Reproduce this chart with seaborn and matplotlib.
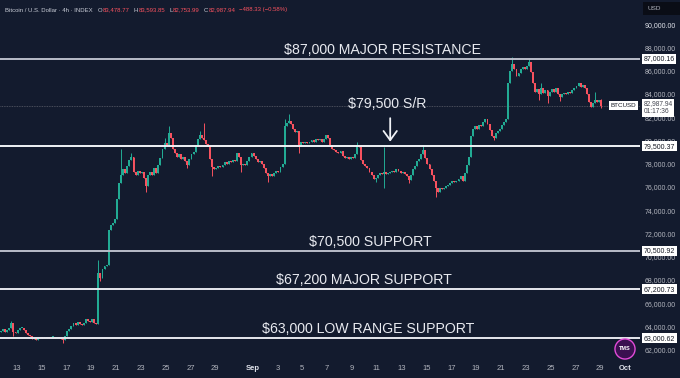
import matplotlib
matplotlib.use("Agg")
import matplotlib.pyplot as plt
import matplotlib.dates as mdates
from matplotlib.patches import Rectangle
import seaborn as sns
import pandas as pd
import numpy as np

# 4h closes, thousands of USD; first candle opens 11 Aug 16:00
first_open = 63.5
closes = [
    63.6, 63.8, 63.5, 63.7, 63.9, 64.3, 63.5, 63.4, 63.7, 63.9,
    63.9, 63.7, 63.4, 63.3, 63.2, 62.9, 63.0, 62.8, 63.0, 63.1,
    63.0, 63.0, 63.1, 63.0, 63.1, 63.1, 63.0, 63.1, 63.0, 62.9,
    62.8, 63.2, 63.6, 63.8, 64.0, 64.3, 64.1, 64.4, 64.2, 64.1,
    64.3, 64.6, 64.5, 64.4, 64.6, 64.3, 64.2, 68.6, 68.2, 68.9,
    69.2, 69.3, 72.3, 72.7, 72.9, 73.2, 75.0, 76.3, 77.0, 77.5,
    77.2, 77.8, 78.3, 78.6, 77.3, 77.0, 77.4, 77.2, 77.3, 76.8,
    76.1, 77.0, 77.3, 77.0, 77.6, 77.2, 77.9, 78.5, 79.3, 79.8,
    79.6, 80.6, 80.2, 79.3, 78.9, 78.6, 78.8, 78.4, 78.6, 78.2,
    77.9, 78.4, 78.8, 79.0, 79.6, 80.1, 80.5, 80.2, 80.0, 79.7,
    79.5, 78.4, 77.7, 77.5, 77.6, 77.8, 77.7, 77.9, 78.1, 78.0,
    78.2, 78.1, 78.3, 78.2, 78.9, 78.6, 77.9, 78.0, 77.9, 78.2,
    78.6, 78.9, 78.7, 78.4, 78.1, 78.2, 78.0, 77.6, 77.2, 76.9,
    77.1, 76.9, 77.2, 77.4, 77.3, 77.7, 78.0, 81.2, 81.5, 81.7,
    81.4, 81.0, 80.7, 80.8, 79.6, 79.9, 79.8, 79.9, 79.8, 79.9,
    80.0, 79.9, 80.1, 80.0, 80.1, 79.9, 80.1, 80.5, 80.2, 79.6,
    79.3, 79.2, 79.0, 78.9, 79.1, 78.7, 78.5, 78.6, 78.4, 78.6,
    78.5, 78.8, 79.6, 79.4, 78.3, 78.0, 77.8, 77.6, 77.3, 77.0,
    76.7, 76.8, 77.0, 77.2, 77.1, 77.3, 77.1, 77.2, 77.3, 77.4,
    77.3, 77.5, 77.4, 77.2, 77.3, 77.1, 76.9, 76.6, 77.0, 77.5,
    77.8, 78.2, 78.4, 78.8, 79.2, 78.5, 78.0, 77.5, 77.0, 76.5,
    75.9, 75.6, 75.9, 75.8, 75.9, 76.1, 76.2, 76.3, 76.5, 76.4,
    76.5, 76.7, 76.9, 76.5, 77.2, 77.9, 78.6, 80.4, 81.0, 81.2,
    81.0, 81.3, 81.2, 81.6, 81.8, 81.4, 80.9, 80.4, 80.2, 80.6,
    80.8, 81.0, 81.3, 81.6, 81.8, 84.9, 86.0, 86.6, 86.1, 85.5,
    85.8, 86.1, 86.3, 86.1, 86.4, 86.7, 85.9, 84.9, 84.2, 84.4,
    84.0, 84.5, 84.1, 84.3, 83.8, 84.2, 84.4, 84.2, 84.5, 84.0,
    83.7, 84.0, 84.1, 84.0, 84.2, 84.1, 84.3, 84.5, 84.7, 84.9,
    84.6, 84.8, 84.5, 84.0, 83.3, 82.9, 83.2, 83.5, 83.3, 83.47877,
    82.98794,
]
# notable wicks (candle index -> thousands USD)
wick_highs = {5: 64.5, 47: 69.7, 58: 79.3, 63: 78.9, 79: 80.2, 81: 81.2,
              96: 80.8, 98: 81.5, 137: 81.8, 139: 82.3, 172: 79.9, 185: 79.4,
              204: 79.6, 247: 87.2, 255: 87.1, 261: 84.9, 287: 84.2, 290: 83.59385}
wick_lows = {6: 63.2, 30: 62.6, 48: 67.9, 70: 75.6, 90: 77.6, 102: 76.9,
             116: 77.3, 129: 76.4, 144: 78.9, 181: 76.4, 185: 75.9, 197: 76.3,
             210: 75.1, 238: 80.0, 260: 83.5, 264: 83.2, 270: 83.4, 290: 82.75399}

levels = [87000.16, 79500.37, 70500.92, 67200.73, 63000.62]
level_colors = ['#b9bdc9', '#f0f2f6', '#b9bdc9', '#e6e8ee', '#e6e8ee']
last_price = 82987.94
price_ticks = [62000, 64000, 66000, 68000, 70000, 72000, 74000, 76000,
               78000, 80000, 82000, 84000, 86000, 88000, 90000]
date_ticks = ['2025-08-13', '2025-08-15', '2025-08-17', '2025-08-19', '2025-08-21',
              '2025-08-23', '2025-08-25', '2025-08-27', '2025-08-29', '2025-09-01',
              '2025-09-03', '2025-09-05', '2025-09-07', '2025-09-09', '2025-09-11',
              '2025-09-13', '2025-09-15', '2025-09-17', '2025-09-19', '2025-09-21',
              '2025-09-23', '2025-09-25', '2025-09-27', '2025-09-29', '2025-10-01']
date_labels = ['13', '15', '17', '19', '21', '23', '25', '27', '29', 'Sep',
               '3', '5', '7', '9', '11', '13', '15', '17', '19', '21',
               '23', '25', '27', '29', 'Oct']

bg = '#131b2e'
up, down = '#22ab94', '#f7525f'
sns.set_theme(style="dark", rc={"axes.facecolor": bg, "figure.facecolor": bg})
plt.rcParams['font.family'] = ['Liberation Sans', 'DejaVu Sans']

# build OHLC frame
t0 = pd.Timestamp('2025-08-11 16:00')
df = pd.DataFrame({'close': np.array(closes) * 1000})
df['open'] = np.r_[first_open, closes[:-1]] * 1000
df['time'] = [t0 + pd.Timedelta(hours=4 * i + 2) for i in range(len(df))]
df['high'] = df[['open', 'close']].max(axis=1)
df['low'] = df[['open', 'close']].min(axis=1)
for i, v in wick_highs.items():
    df.loc[i, 'high'] = v * 1000
for i, v in wick_lows.items():
    df.loc[i, 'low'] = v * 1000
df['color'] = np.where(df['close'] >= df['open'], up, down)

fig = plt.figure(figsize=(6.8, 3.78), dpi=100)
ax = fig.add_axes([0, 21 / 378, 640 / 680, 357 / 378])

x = mdates.date2num(df['time'])
ax.vlines(x, df['low'], df['high'], colors=df['color'], lw=0.7, zorder=3)
body = np.maximum((df['close'] - df['open']).abs(), 50)
ax.bar(x, body, bottom=df[['open', 'close']].min(axis=1), width=0.155,
       color=df['color'], linewidth=0, zorder=4)

# levels
for lvl, c in zip(levels, level_colors):
    ax.axhline(lvl, color=c, lw=1.4, zorder=5)
    ax.annotate(f"{lvl:,.2f}", xy=(1.0, lvl), xycoords=('axes fraction', 'data'),
                xytext=(2.5, 0), textcoords='offset points', ha='left', va='center',
                fontsize=5, color='#131722', annotation_clip=False, zorder=10,
                bbox=dict(boxstyle='square,pad=0.25', fc='white', ec='none'))
ax.axhline(last_price, color='#5d606b', lw=0.6, ls=(0, (1, 1)), zorder=2)
ax.annotate('BTCUSD', xy=(1.0, last_price), xycoords=('axes fraction', 'data'),
            xytext=(-2.5, 0), textcoords='offset points', ha='right', va='center',
            fontsize=4.5, color='#131722', annotation_clip=False, zorder=10,
            bbox=dict(boxstyle='square,pad=0.3', fc='white', ec='none'))
ax.annotate(f"{last_price:,.2f}\n01:17:36", xy=(1.0, last_price),
            xycoords=('axes fraction', 'data'), xytext=(2.5, -1.5),
            textcoords='offset points', ha='left', va='center', fontsize=4.8,
            linespacing=1.1, color='#434651', annotation_clip=False, zorder=10,
            bbox=dict(boxstyle='square,pad=0.25', fc='white', ec='none'))

# level captions
tc = '#e8eaf0'
def day(s):
    return mdates.date2num(pd.Timestamp(s))
ax.text(day('2025-09-11 11:00'), 87000 + 150, '$87,000 MAJOR RESISTANCE',
        ha='center', va='bottom', fontsize=10.2, color=tc, zorder=6)
ax.text(day('2025-09-11 20:00'), 83150, '$79,500 S/R',
        ha='center', va='center', fontsize=10.2, color=tc, zorder=6)
ax.annotate('', xy=(day('2025-09-12 02:00'), 79650), xytext=(day('2025-09-12 02:00'), 82150),
            arrowprops=dict(arrowstyle='->,head_length=0.55,head_width=0.4',
                            color='#f0f2f6', lw=1.3), zorder=6)
ax.text(day('2025-09-10 12:00'), 70500 + 150, '$70,500 SUPPORT',
        ha='center', va='bottom', fontsize=10.2, color=tc, zorder=6)
ax.text(day('2025-09-10 00:00'), 67200 + 150, '$67,200 MAJOR SUPPORT',
        ha='center', va='bottom', fontsize=10.2, color=tc, zorder=6)
ax.text(day('2025-09-10 08:00'), 63000 + 150, '$63,000 LOW RANGE SUPPORT',
        ha='center', va='bottom', fontsize=10.2, color=tc, zorder=6)

# axes
ax.set_xlim(mdates.date2num(t0), mdates.date2num(t0) + 640 / 12.42)
ax.set_ylim(61372, 92074)
ax.yaxis.tick_right()
ax.set_yticks(price_ticks)
ax.set_yticklabels([f"{v:,.2f}" for v in price_ticks])
ax.tick_params(axis='y', length=0, pad=3.5, labelsize=5, labelcolor='#b2b5be')
ax.get_yticklabels()[-1].set_color('#e0e3eb')
ax.set_xticks([day(d) for d in date_ticks])
ax.set_xticklabels(date_labels)
ax.tick_params(axis='x', length=0, pad=6, labelsize=5.5, labelcolor='#b2b5be')
for lab in ax.get_xticklabels():
    if lab.get_text() in ('Sep', 'Oct'):
        lab.set_fontweight('bold')
        lab.set_color('#e0e3eb')
ax.grid(False)
for s in ax.spines.values():
    s.set_visible(False)

# header, laid out piece by piece
hy = 1 - 10 / 378
hdr = [('Bitcoin / U.S. Dollar · 4h · INDEX', '#c8ccd6', 5),
       ('O', '#c8ccd6', 5), ('83,478.77', down, 0.5),
       ('H', '#c8ccd6', 4), ('83,593.85', down, 0.5),
       ('L', '#c8ccd6', 4), ('82,753.99', down, 0.5),
       ('C', '#c8ccd6', 4), ('82,987.94', down, 0.5),
       ('\u2212488.33 (\u22120.58%)', down, 4)]
renderer = fig.canvas.get_renderer()
px = 5
for k, (s, c, gap) in enumerate(hdr):
    if k > 0:
        px += gap
    t = fig.text(px / 680, hy, s, fontsize=4.3, color=c, ha='left', va='center')
    px = t.get_window_extent(renderer).x1

fig.patches.append(Rectangle((643 / 680, 1 - 15 / 378), 37 / 680, 13 / 378,
                             transform=fig.transFigure, fc='#0a0d16', ec='none'))
fig.text(647 / 680, 1 - 8.5 / 378, 'USD', fontsize=4.6, color='#b2b5be',
         ha='left', va='center')
fig.text(625 / 680, 1 - 349 / 378, 'TMS', fontsize=4, color='white',
         ha='center', va='center', fontweight='bold',
         bbox=dict(boxstyle='circle,pad=0.75', fc='#3b1050', ec='#e24bd8', lw=1))

fig.savefig('out.png', dpi=100, facecolor=bg)
